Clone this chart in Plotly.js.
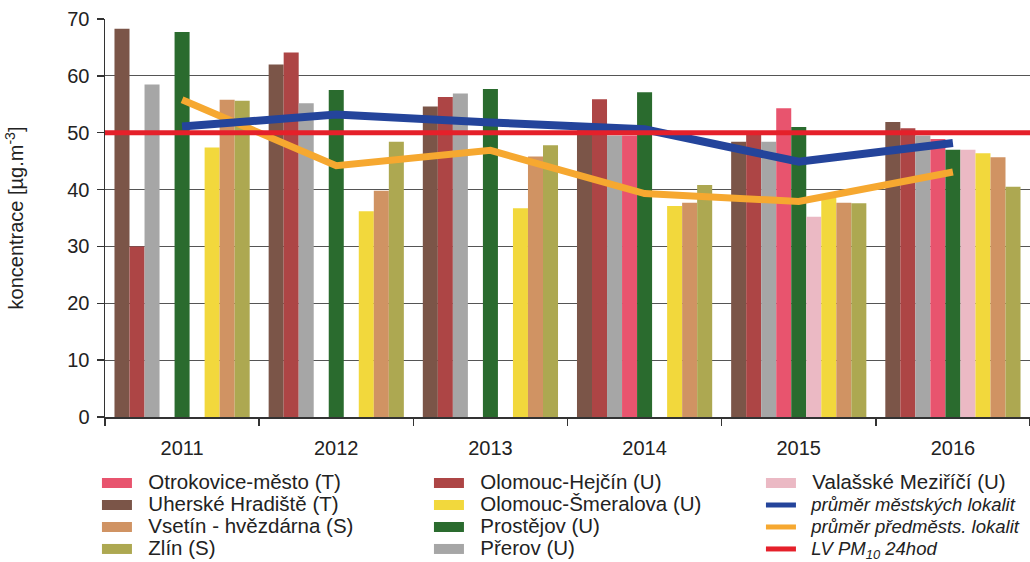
<!DOCTYPE html>
<html><head><meta charset="utf-8">
<script src="https://cdn.plot.ly/plotly-3.0.1.min.js"></script>
<style>html,body{margin:0;padding:0;background:#fff}#chart{width:1030px;height:562px}</style>
</head><body><div id="chart"></div>
<script>
// ---- data ----
const years = ['2011', '2012', '2013', '2014', '2015', '2016'];

const uherskeHradiste   = [68.3, 62.0, 54.6, 50.8, 48.4, 51.9];
const olomoucHejcin     = [30.0, 64.1, 56.3, 55.9, 49.9, 50.8];
const prerov            = [58.5, 55.2, 56.9, 49.5, 48.4, 49.5];
const otrokoviceMesto   = [null, null, null, 49.5, 54.3, 48.9];
const prostejov         = [67.7, 57.5, 57.7, 57.1, 51.0, 47.0];
const valasskeMezirici  = [null, null, null, null, 35.2, 47.0];
const olomoucSmeralova  = [47.4, 36.2, 36.7, 37.1, 38.5, 46.4];
const vsetinHvezdarna   = [55.8, 39.8, 45.8, 37.7, 37.7, 45.7];
const zlin              = [55.6, 48.4, 47.8, 40.8, 37.6, 40.5];

const prumerMestskych     = [51.1, 53.2, 51.8, 50.6, 44.9, 48.2];
const prumerPredmestskych = [55.8, 44.2, 46.9, 39.3, 37.9, 43.1];
const limitValue = 50;

// names
const nUH = 'Uherské Hradiště (T)';
const nOH = 'Olomouc-Hejčín (U)';
const nPr = 'Přerov (U)';
const nOt = 'Otrokovice-město (T)';
const nPv = 'Prostějov (U)';
const nVM = 'Valašské Meziříčí (U)';
const nOS = 'Olomouc-Šmeralova (U)';
const nVs = 'Vsetín - hvězdárna (S)';
const nZl = 'Zlín (S)';
const nBlue = 'průměr městských lokalit';
const nOrange = 'průměr předměsts. lokalit';
const nLV = 'LV PM<sub>10</sub> 24hod';

// ---- styles ----
const colors = {
  UH: '#7b5548', OH: '#ad4545', Pr: '#a6a6a6', Ot: '#e8546e', Pv: '#2a6b2e',
  VM: '#ebb9c4', OS: '#f2d83c', Vs: '#d09363', Zl: '#ada851',
  blue: '#24449b', orange: '#f6a830', red: '#e5202a'
};

const barSeries = [
  [nUH, uherskeHradiste, colors.UH],
  [nOH, olomoucHejcin, colors.OH],
  [nPr, prerov, colors.Pr],
  [nOt, otrokoviceMesto, colors.Ot],
  [nPv, prostejov, colors.Pv],
  [nVM, valasskeMezirici, colors.VM],
  [nOS, olomoucSmeralova, colors.OS],
  [nVs, vsetinHvezdarna, colors.Vs],
  [nZl, zlin, colors.Zl]
];

const traces = [];
barSeries.forEach(([name, vals, col]) => {
  traces.push({type: 'bar', name: name, x: years, y: vals, marker: {color: col, line: {width: 0}},
               showlegend: false, hoverinfo: 'y+name'});
});
traces.push({type: 'scatter', mode: 'lines', name: nOrange, x: years, y: prumerPredmestskych,
             line: {color: colors.orange, width: 7}, showlegend: false});
traces.push({type: 'scatter', mode: 'lines', name: nBlue, x: years, y: prumerMestskych,
             line: {color: colors.blue, width: 8}, showlegend: false});
traces.push({type: 'scatter', mode: 'lines', name: nLV, x: [0, 1], y: [limitValue, limitValue],
             xaxis: 'x2', yaxis: 'y', line: {color: colors.red, width: 5}, showlegend: false});

// legend entries (row-major order for a 3-column legend)
const normalLabel = t => '<span style="font-size:20.5px">&nbsp;&nbsp;' + t + '</span>';
const italicLabel = t => '<span style="font-size:18.5px">&nbsp;&nbsp;<i>' + t + '</i></span>';
const legendEntries = [
  [normalLabel(nOt), colors.Ot, 10], [normalLabel(nOH), colors.OH, 10], [normalLabel(nVM), colors.VM, 10],
  [normalLabel(nUH), colors.UH, 10], [normalLabel(nOS), colors.OS, 10], [italicLabel(nBlue), colors.blue, 5],
  [normalLabel(nVs), colors.Vs, 10], [normalLabel(nPv), colors.Pv, 10], [italicLabel(nOrange), colors.orange, 5],
  [normalLabel(nZl), colors.Zl, 10], [normalLabel(nPr), colors.Pr, 10], [italicLabel(nLV), colors.red, 5]
];
legendEntries.forEach(([name, col, w], i) => {
  traces.push({type: 'scatter', mode: 'lines', name: name, x: [null], y: [null],
               line: {color: col, width: w}, showlegend: true, legendrank: i + 1, hoverinfo: 'skip'});
});

const layout = {
  width: 1030, height: 562,
  margin: {l: 105, r: 0, t: 19, b: 145, autoexpand: false},
  paper_bgcolor: '#ffffff', plot_bgcolor: '#ffffff',
  font: {family: 'Liberation Sans, Arial, sans-serif', size: 19, color: '#333333'},
  barmode: 'group', bargap: 0.123, bargroupgap: 0,
  xaxis: {type: 'category', tickson: 'boundaries', ticks: 'outside', ticklen: 7, tickwidth: 1.5,
          tickcolor: '#333', showline: true, linecolor: '#333', linewidth: 1.5, showgrid: false,
          tickfont: {size: 20, color: '#222'}, ticklabelstandoff: 12, fixedrange: true},
  yaxis: {range: [0, 70], dtick: 10, ticks: 'outside', ticklen: 7, tickwidth: 1.5, tickcolor: '#333',
          showline: true, linecolor: '#333', linewidth: 1.5, showgrid: true, gridcolor: '#555',
          gridwidth: 1, zeroline: false, tickfont: {size: 20, color: '#222'}, ticklabelstandoff: 3,
          title: {text: 'koncentrace [µg.m<sup>-3</sup>]', font: {size: 20, color: '#222'}, standoff: 38},
          fixedrange: true},
  xaxis2: {overlaying: 'x', anchor: 'y', range: [0, 1], visible: false, fixedrange: true},
  showlegend: true,
  legend: {orientation: 'h', x: -0.0087, xanchor: 'left', y: -0.1257, yanchor: 'top',
           font: {size: 14.6, color: '#222'}, entrywidth: 287, entrywidthmode: 'pixels', itemwidth: 30,
           traceorder: 'normal', bgcolor: 'rgba(0,0,0,0)'}
};

Plotly.newPlot('chart', traces, layout, {displayModeBar: false, staticPlot: true});
</script>
</body></html>
